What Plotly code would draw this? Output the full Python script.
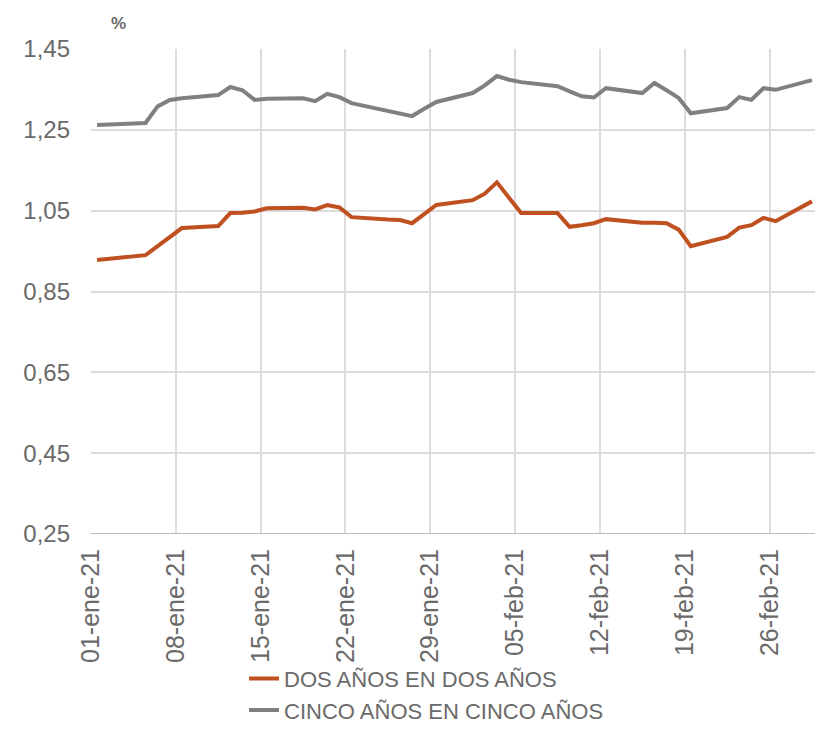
import plotly.graph_objects as go

# ── datos (días hábiles ene-mar 2021) ─────────────────────────────
fechas = [
    "2021-01-01", "2021-01-04", "2021-01-05", "2021-01-06", "2021-01-07", "2021-01-08",
    "2021-01-11", "2021-01-12", "2021-01-13", "2021-01-14", "2021-01-15",
    "2021-01-18", "2021-01-19", "2021-01-20", "2021-01-21", "2021-01-22",
    "2021-01-25", "2021-01-26", "2021-01-27", "2021-01-28", "2021-01-29",
    "2021-02-01", "2021-02-02", "2021-02-03", "2021-02-04", "2021-02-05",
    "2021-02-08", "2021-02-09", "2021-02-10", "2021-02-11", "2021-02-12",
    "2021-02-15", "2021-02-16", "2021-02-17", "2021-02-18", "2021-02-19",
    "2021-02-22", "2021-02-23", "2021-02-24", "2021-02-25", "2021-02-26",
    "2021-03-01",
]

dos_anos = [
    0.928, 0.936, 0.940, 0.962, 0.985, 1.007,
    1.012, 1.044, 1.045, 1.048, 1.056,
    1.057, 1.053, 1.064, 1.058, 1.034,
    1.028, 1.027, 1.019, 1.042, 1.064,
    1.076, 1.092, 1.120, 1.080, 1.044,
    1.044, 1.010, 1.014, 1.019, 1.029,
    1.020, 1.020, 1.019, 1.003, 0.962,
    0.985, 1.008, 1.014, 1.032, 1.024,
    1.073,
]

cinco_anos = [
    1.262, 1.264, 1.267, 1.308, 1.324, 1.328,
    1.336, 1.356, 1.348, 1.324, 1.327,
    1.328, 1.321, 1.339, 1.331, 1.316,
    1.296, 1.290, 1.284, 1.302, 1.319,
    1.341, 1.360, 1.383, 1.374, 1.368,
    1.358, 1.345, 1.333, 1.330, 1.353,
    1.341, 1.366, 1.348, 1.329, 1.291,
    1.304, 1.331, 1.324, 1.353, 1.349,
    1.373,
]

tick_fechas = [
    "2021-01-01", "2021-01-08", "2021-01-15", "2021-01-22", "2021-01-29",
    "2021-02-05", "2021-02-12", "2021-02-19", "2021-02-26",
]
tick_textos = [
    "01-ene-21", "08-ene-21", "15-ene-21", "22-ene-21", "29-ene-21",
    "05-feb-21", "12-feb-21", "19-feb-21", "26-feb-21",
]
y_ticks = [0.25, 0.45, 0.65, 0.85, 1.05, 1.25, 1.45]

FUENTE = "Liberation Sans, Arial, sans-serif"
GRIS_TXT = "#6A6A6A"
UN_DIA = 86400000  # ms: cada punto se centra en su día

fig = go.Figure()
fig.add_trace(go.Scatter(
    x=fechas, y=dos_anos, mode="lines", name="DOS AÑOS EN DOS AÑOS",
    xperiod=UN_DIA, xperiodalignment="middle",
    line=dict(color="#BF5020", width=4),
))
fig.add_trace(go.Scatter(
    x=fechas, y=cinco_anos, mode="lines", name="CINCO AÑOS EN CINCO AÑOS",
    xperiod=UN_DIA, xperiodalignment="middle",
    line=dict(color="#808080", width=4),
))

fig.update_layout(
    width=823, height=749,
    separators=",.",
    plot_bgcolor="white",
    paper_bgcolor="white",
    font=dict(family=FUENTE, size=24, color=GRIS_TXT),
    margin=dict(l=83, r=13, t=41, b=223),
    showlegend=True,
    legend=dict(
        orientation="v",
        x=0.2105, xanchor="left",
        y=-0.255, yanchor="top",
        bgcolor="rgba(0,0,0,0)",
        font=dict(family=FUENTE, size=22, color=GRIS_TXT),
        tracegroupgap=0,
        itemwidth=30,
    ),
    annotations=[dict(
        text="<b>%</b>", xref="paper", yref="paper", x=0.038, y=1.052,
        xanchor="center", yanchor="middle", showarrow=False,
        font=dict(family=FUENTE, size=17, color=GRIS_TXT),
    )],
)

fig.update_xaxes(
    range=["2021-01-01", "2021-03-02"],
    tickvals=tick_fechas, ticktext=tick_textos, tickangle=-90,
    tickfont=dict(size=25),
    showgrid=True, gridcolor="#DCDCDC", gridwidth=2,
    showline=False, zeroline=False, ticks="", automargin=False,
    ticklabelstandoff=9,
)
fig.update_yaxes(
    range=[0.25, 1.45], tickvals=y_ticks, tickformat=".2f",
    showgrid=True, gridcolor="#DCDCDC", gridwidth=2,
    zeroline=False, showline=False, ticks="", automargin=False,
    ticklabelstandoff=20,
)
fig.add_shape(type="line", xref="paper", yref="y", x0=0, x1=1, y0=0.25, y1=0.25,
              line=dict(color="#BDBDBD", width=2))

fig.write_html("out.html")
